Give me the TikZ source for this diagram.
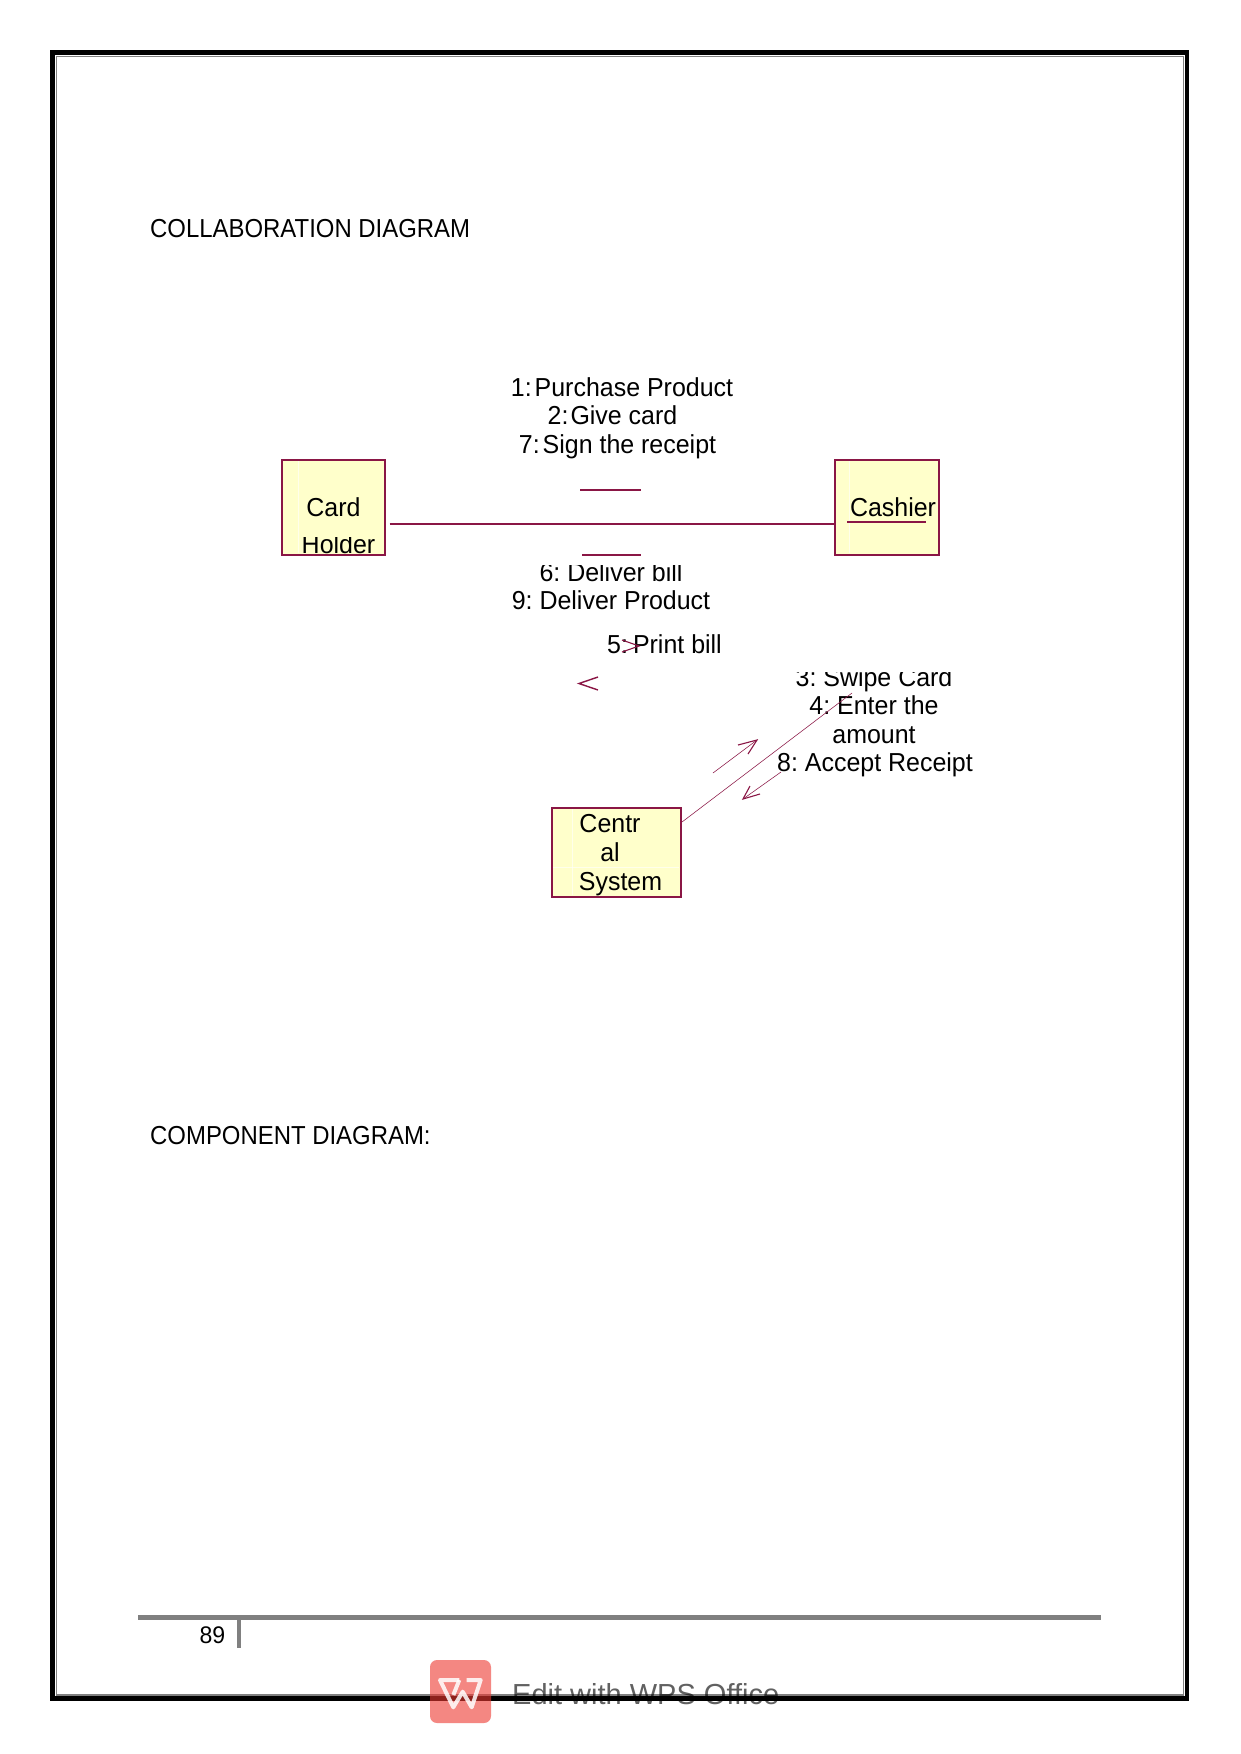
\documentclass[tikz,border=0pt]{standalone}
\usepackage{fontspec}
\setmainfont[FakeStretch=0.96]{Liberation Sans}
\newfontfamily\headfont[FakeStretch=0.92]{Liberation Sans}
\newfontfamily\wpsfont{Liberation Sans}
\definecolor{maroonline}{HTML}{8A1645}
\definecolor{boxfill}{HTML}{FFFFCB}
\definecolor{rulegray}{HTML}{808080}
\definecolor{logored}{HTML}{EE3730}
\tikzset{
  x=1pt,y=-1pt,
  lbl/.style={inner sep=0pt,anchor=base,font=\fontsize{26}{28}\selectfont,text=black},
  lbll/.style={inner sep=0pt,anchor=base west,font=\headfont\fontsize{26}{28}\selectfont,text=black},
  umlbox/.style={draw=maroonline,line width=2.4pt,fill=boxfill,inner sep=0pt,anchor=north west},
  seam/.style={draw=white,line width=0.7pt,opacity=.6},
  thinl/.style={draw=maroonline,line width=0.55pt},
  barb/.style={draw=maroonline,line width=1.1pt},
  midl/.style={draw=maroonline,line width=2pt}
}
\begin{document}
\frenchspacing
\begin{tikzpicture}
\useasboundingbox (0,0) rectangle (1241,1754);
\fill[white] (0,0) rectangle (1241,1754);
% page frame
\draw[line width=4.6pt,black] (52.5,52.5) rectangle (1187,1698.5);
\draw[line width=1.6pt,rulegray] (56.5,56.5) rectangle (1183.5,1695);
% headings
\node[lbll] (title1) at (150,237) {COLLABORATION DIAGRAM};
\node[lbll] (title2) at (150,1144) {COMPONENT DIAGRAM:};
% boxes
\node[umlbox,minimum width=103pt,minimum height=95pt] (card) at (281,458.5) {};
\node[umlbox,minimum width=104pt,minimum height=95pt] (cashier) at (833.5,458.5) {};
\node[umlbox,minimum width=129pt,minimum height=89pt] (central) at (550.5,806.5) {};
\draw[seam] (298,461) -- (298,553);
\draw[seam] (849,461) -- (849,553);
\draw[seam] (572,809) -- (572,895);
\draw[seam] (553,867) -- (679,867);
% box labels
\node[lbl] (cardt) at (333.5,516) {Card};
\begin{scope}
\clip (284,537) rectangle (385,554);
\node[lbl] (holdert) at (338.5,553) {Holder};
\end{scope}
\node[lbl] (cashiert) at (893,516) {Cashier};
\node[lbl] (c1) at (610,832) {Centr};
\node[lbl] (c2) at (610,861) {al};
\node[lbl] (c3) at (620.5,890) {System};
% association card-cashier
\coordinate (assocA) at (389.5,524);
\draw[midl] (assocA) -- (cashier.west |- assocA);
\coordinate (u1) at (847,522); \coordinate (u2) at (926,522);
\draw[midl] (u1) -- (u2);
\coordinate (t1) at (580,490); \coordinate (t2) at (641,490);
\draw[midl] (t1) -- (t2);
\coordinate (b1) at (582,554.5); \coordinate (b2) at (641,554.5);
\draw[midl] (b1) -- (b2);
% messages
\node[lbl] (m1) at (622,396) {1:\kern3pt Purchase Product};
\node[lbl] (m2) at (612.5,424) {2:\kern2pt Give card};
\node[lbl] (m7) at (617.5,453) {7:\kern3pt Sign the receipt};
\begin{scope}
\clip (500,565) rectangle (720,590);
\node[lbl] (m6) at (611,581) {6: Deliver bill};
\end{scope}
\node[lbl] (m9) at (611,609) {9: Deliver Product};
\node[lbl] (m5) at (664.5,653) {5:\kern5pt Print bill};
\begin{scope}
\clip (780,672) rectangle (970,695);
\node[lbl] (m3) at (874,686) {3: Swipe Card};
\end{scope}
\node[lbl] (m4) at (874,714) {4: Enter the};
\node[lbl] (ma) at (874,743) {amount};
\node[lbl] (m8) at (875,771) {8: Accept Receipt};
% chevrons
\coordinate (gtA) at (622,640); \coordinate (gtT) at (639,646); \coordinate (gtB) at (622,652);
\draw[barb] (gtA) -- (gtT) -- (gtB);
\coordinate (ltA) at (598,677); \coordinate (ltT) at (579,683.5); \coordinate (ltB) at (598,690);
\draw[midl,line width=1.4pt] (ltA) -- (ltT) -- (ltB);
% link central-cashier
\coordinate (linkS) at (682,822); \coordinate (linkE) at (852,693);
\draw[thinl] (linkS) -- (linkE);
% arrows
\coordinate (upS) at (713,773); \coordinate (upE) at (757,740);
\coordinate (upB1) at (738,745); \coordinate (upB2) at (748,754);
\draw[thinl] (upS) -- (upE);
\draw[barb] (upB1) -- (upE) -- (upB2);
\coordinate (dnS) at (781,772); \coordinate (dnE) at (743,799);
\coordinate (dnB1) at (750,786); \coordinate (dnB2) at (760,794);
\draw[thinl] (dnS) -- (dnE);
\draw[barb] (dnB1) -- (dnE) -- (dnB2);
% footer
\fill[rulegray] (138,1615) rectangle (1101,1620);
\fill[rulegray] (237,1620) rectangle (241,1648);
\node[lbl,font=\fontsize{24}{26}\selectfont] (page) at (212.5,1643) {89};
% watermark
\fill[logored,opacity=.6,rounded corners=7pt] (430,1660) rectangle (491,1723);
\draw[white,opacity=.85,line width=4pt,line join=round] (459.3,1680) -- (440,1680) -- (453.3,1707.3) -- (462.7,1691.7) -- (471.7,1707.3) -- (480.7,1680) -- (466.7,1680);
\draw[white,opacity=.85,line width=4pt,line join=round] (459.3,1680) -- (453.3,1695);
\node[lbl,anchor=base west,font=\wpsfont\fontsize{29}{31}\selectfont,text=black,text opacity=.62] (wps) at (512,1704) {Edit with WPS Office};
\end{tikzpicture}
\end{document}
